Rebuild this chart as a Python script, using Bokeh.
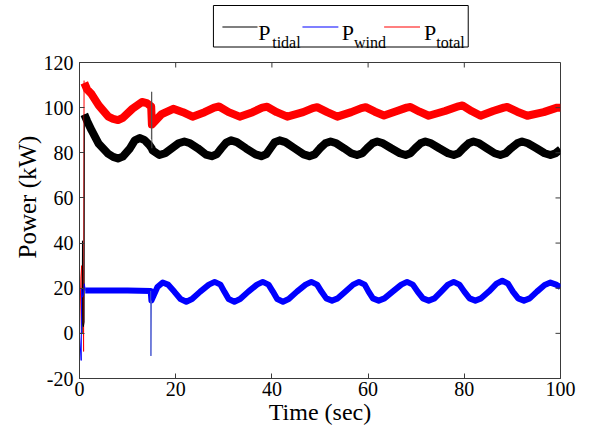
from bokeh.plotting import figure
from bokeh.layouts import column
from bokeh.models import Range1d, FixedTicker, Title
from bokeh.core.properties import value
from bokeh.embed import file_html
from bokeh.resources import INLINE

# ---------------- data ----------------
# start-up transients (thin lines)
tidal_tr_t = [0.0, 0.55, 0.62, 0.7, 0.8, 0.95, 1.0]
tidal_tr_p = [0.0, 0.0, 41.0, 4.0, 3.0, 5.0, 97.0]
wind_tr_t = [0.0, 0.35, 0.45, 0.6, 0.8, 1.0, 1.2]
wind_tr_p = [0.0, -12.0, 20.0, 16.0, 17.0, 22.0, 19.0]
total_tr_t = [0.0, 0.3, 0.45, 0.55, 0.7, 0.85, 0.95]
total_tr_p = [0.0, 25.0, 30.0, 20.0, 28.0, -8.0, 112.0]

# disturbance at t = 15 s (thin spikes)
tidal_sp_t = [14.95, 15.0, 15.05]
tidal_sp_p = [86.0, 107.0, 82.0]
wind_sp_t = [14.8, 14.85, 14.95]
wind_sp_p = [18.8, -10.0, 14.5]

# steady (noisy band) trajectories, (time s, power kW)
tidal = [(1.0, 97), (1.6, 94), (2.5, 90), (4.0, 84), (6.0, 79.5), (7.0, 78.2), (8.0, 77.5),
         (9.0, 78.3), (10.5, 82), (11.5, 85.5), (12.5, 86.5), (13.5, 85.7), (14.5, 83.5),
         (15.0, 82), (15.2, 81), (16.6, 79), (17.8, 79.8), (19.2, 82), (20.6, 84.2),
         (21.8, 85), (23.0, 84.2), (24.6, 82), (26.3, 79.2), (27.5, 78.5), (28.5, 79.3),
         (29.5, 82), (30.5, 84.5), (31.5, 85.5), (32.7, 84.7), (34.6, 82), (36.6, 79.3),
         (37.8, 78.5), (38.8, 79.3), (39.7, 82), (40.6, 84.7), (41.6, 85.5), (42.8, 84.7),
         (44.7, 82), (46.6, 79.3), (47.8, 78.5), (48.9, 79.3), (50.0, 82), (51.1, 84.2),
         (52.2, 85), (53.4, 84.2), (55.0, 82), (56.5, 79.8), (57.7, 79), (58.8, 79.8),
         (59.8, 82), (60.9, 84.2), (61.9, 85), (63.1, 84.2), (64.8, 82), (66.6, 79.8),
         (67.8, 79), (68.8, 79.8), (69.8, 82), (70.9, 84.2), (71.9, 85), (73.1, 84.2),
         (74.8, 82), (76.6, 79.8), (77.8, 79), (78.8, 79.8), (79.8, 82), (80.9, 84.2),
         (81.9, 85), (83.1, 84.2), (84.7, 82), (86.3, 79.8), (87.5, 79), (88.6, 79.8),
         (89.7, 82), (91.0, 84.2), (92.0, 85), (93.2, 84.2), (95.0, 82), (96.7, 79.8),
         (97.9, 79), (99.0, 79.8), (100.0, 81.5)]

wind = [(1.2, 19), (5.0, 19), (10.0, 19), (14.8, 18.8), (14.95, 14.5), (16.2, 20.5),
        (17.3, 22.5), (18.4, 21.6), (19.7, 18.5), (21.0, 15.2), (22.2, 14), (23.4, 15.2),
        (25.1, 18.5), (26.9, 21.6), (28.1, 22.8), (29.3, 21.6), (30.1, 18.5), (31.0, 15.2),
        (32.2, 14), (33.4, 15.2), (35.1, 18.5), (36.9, 21.6), (38.1, 22.8), (39.3, 21.6),
        (40.2, 18.5), (41.1, 15.2), (42.3, 14), (43.5, 15.2), (45.2, 18.5), (47.0, 21.6),
        (48.2, 22.8), (49.4, 21.6), (50.3, 18.5), (51.3, 15.5), (52.5, 14.5), (53.7, 15.5),
        (55.3, 18.5), (56.9, 21.6), (58.1, 22.8), (59.3, 21.6), (60.1, 18.5), (61.0, 15.5),
        (62.2, 14.5), (63.4, 15.5), (65.1, 18.5), (66.9, 21.6), (68.1, 22.8), (69.3, 21.6),
        (70.3, 18.5), (71.4, 15.5), (72.6, 14.5), (73.8, 15.5), (75.2, 18.5), (76.6, 21.6),
        (77.8, 22.8), (79.0, 21.6), (80.0, 18.5), (81.1, 15.5), (82.3, 14.5), (83.5, 15.5),
        (85.1, 18.5), (86.7, 22.0), (87.9, 23.3), (89.1, 22.0), (90.1, 18.5), (91.2, 15.5),
        (92.4, 14.5), (93.6, 15.5), (95.1, 18.5), (96.7, 21.4), (97.9, 22.5), (99.1, 21.6),
        (100.0, 20.5)]

total = [(1.0, 111), (1.6, 108), (2.5, 106), (4.0, 101), (6.0, 96), (7.0, 95), (8.0, 94.5),
         (9.0, 95.5), (11.0, 99.5), (13.0, 102.5), (14.0, 102), (14.9, 100.5), (15.05, 92.5),
         (17.0, 97), (19.5, 99.5), (21.5, 98), (23.5, 96), (26.0, 98), (28.0, 100), (29.0, 100.5),
         (31.0, 98), (33.3, 96), (36.0, 98), (38.0, 100), (39.0, 100.4), (41.0, 98), (43.2, 96),
         (46.5, 98), (48.5, 99.8), (49.4, 100.2), (51.5, 98), (53.6, 96), (56.5, 98),
         (58.6, 99.8), (59.5, 100.2), (61.4, 98.2), (63.3, 96.5), (66.0, 98.5), (68.0, 100),
         (68.8, 100.3), (70.7, 98.2), (72.6, 96.4), (76.0, 98.5), (78.8, 100.6), (79.6, 101),
         (81.5, 98.5), (83.4, 96.4), (86.0, 98.5), (88.2, 100), (88.9, 100.3), (91.0, 98.2),
         (93.1, 96.4), (96.5, 98), (99.3, 100), (100.0, 100)]

x_ticks = [0, 20, 40, 60, 80, 100]
x_tick_labels = ["0", "20", "40", "60", "80", "100"]
y_ticks = [-20, 0, 20, 40, 60, 80, 100, 120]
y_tick_labels = ["-20", "0", "20", "40", "60", "80", "100", "120"]
legend_names = ["tidal", "wind", "total"]
colors = ["#000000", "#0000ff", "#ff0000"]

tidal_t = [a for a, b in tidal]
tidal_p = [b for a, b in tidal]
wind_t = [a for a, b in wind]
wind_p = [b for a, b in wind]
total_t = [a for a, b in total]
total_p = [b for a, b in total]

FONT = "Liberation Serif"
W = 589

# ---------------- legend strip ----------------
leg = figure(width=W, height=50, x_range=Range1d(0, W), y_range=Range1d(50, 0),
             output_backend="svg", toolbar_location=None,
             x_axis_type=None, y_axis_type=None,
             min_border_left=0, min_border_right=0, min_border_top=0, min_border_bottom=0)
leg.outline_line_color = None
leg.grid.visible = False

box_l, box_r, box_t, box_b = 164, 476, 5, 46.5
leg.quad(left=[box_l], right=[box_r], top=[box_t], bottom=[box_b],
         fill_color=None, line_color="black", line_width=1)

line_x0 = [175, 273, 373]
line_x1 = [218, 317, 417]
p_x = [219, 321, 422]
sub_x = [236, 336, 437]
for i in range(3):
    leg.segment(x0=[line_x0[i]], y0=[26.5], x1=[line_x1[i]], y1=[26.5],
                line_color=colors[i], line_width=1.2)
leg.text(x=p_x, y=[32, 32, 32], text=["P", "P", "P"], text_font=value(FONT),
         text_font_size=value("22px"), text_baseline="alphabetic", text_align="left",
         text_color="black")
leg.text(x=sub_x, y=[41.5, 41.5, 41.5], text=legend_names, text_font=value(FONT),
         text_font_size=value("16px"), text_baseline="alphabetic", text_align="left",
         text_color="black")

# ---------------- main plot ----------------
p = figure(width=W, height=383, x_range=Range1d(0, 100), y_range=Range1d(-20, 120),
           output_backend="svg", toolbar_location=None,
           min_border_left=79, min_border_right=29, min_border_top=12, min_border_bottom=55)
p.grid.visible = False
p.outline_line_color = "#3a3a3a"

p.line(tidal_t, tidal_p, line_color=colors[0], line_width=8, line_join="round")
p.line(total_t, total_p, line_color=colors[2], line_width=8, line_join="round")
p.line(wind_t, wind_p, line_color=colors[1], line_width=6, line_join="round")
p.line(total_tr_t, total_tr_p, line_color=colors[2], line_width=1)
p.line(tidal_tr_t, tidal_tr_p, line_color=colors[0], line_width=1)
p.line(wind_tr_t, wind_tr_p, line_color=colors[1], line_width=1)
p.line(tidal_sp_t, tidal_sp_p, line_color="#555555", line_width=1)
p.line(wind_sp_t, wind_sp_p, line_color="#4a5ad0", line_width=1)

# inward ticks on the top and right edges of the box
p.ray(x=x_ticks, y=[y_ticks[-1]] * len(x_ticks), length=5, length_units="screen",
      angle=-90, angle_units="deg", line_color="#3a3a3a", line_width=1)
p.ray(x=[x_ticks[-1]] * len(y_ticks), y=y_ticks, length=5, length_units="screen",
      angle=180, angle_units="deg", line_color="#3a3a3a", line_width=1)

for ax in (p.xaxis[0], p.yaxis[0]):
    ax.major_tick_in = 5
    ax.major_tick_out = 0
    ax.minor_tick_line_color = None
    ax.axis_line_color = "#3a3a3a"
    ax.major_tick_line_color = "#3a3a3a"
    ax.major_label_text_font = FONT
    ax.major_label_text_font_size = "20px"
    ax.major_label_text_color = "black"
    ax.axis_label_text_font = FONT
    ax.axis_label_text_font_style = "normal"
    ax.axis_label_text_color = "black"

p.xaxis.ticker = FixedTicker(ticks=x_ticks)
p.yaxis.ticker = FixedTicker(ticks=y_ticks)
p.xaxis.major_label_overrides = dict(zip(x_ticks, x_tick_labels))
p.yaxis.major_label_overrides = dict(zip(y_ticks, y_tick_labels))
p.xaxis.major_label_standoff = 3
p.yaxis.major_label_standoff = 6
p.xaxis.axis_label = "Time (sec)"
p.xaxis.axis_label_text_font_size = "24px"
p.xaxis.axis_label_standoff = 0

# y-axis title: sits above the frame centre in the reference
ytitle = Title(text="Power (kW)", align="left", offset=120, standoff=0,
               text_font=FONT, text_font_size="25px", text_font_style="normal",
               text_color="black")
p.add_layout(ytitle, "left")

layout = column(leg, p, spacing=0)
open("out.html", "w").write(file_html(layout, INLINE))
